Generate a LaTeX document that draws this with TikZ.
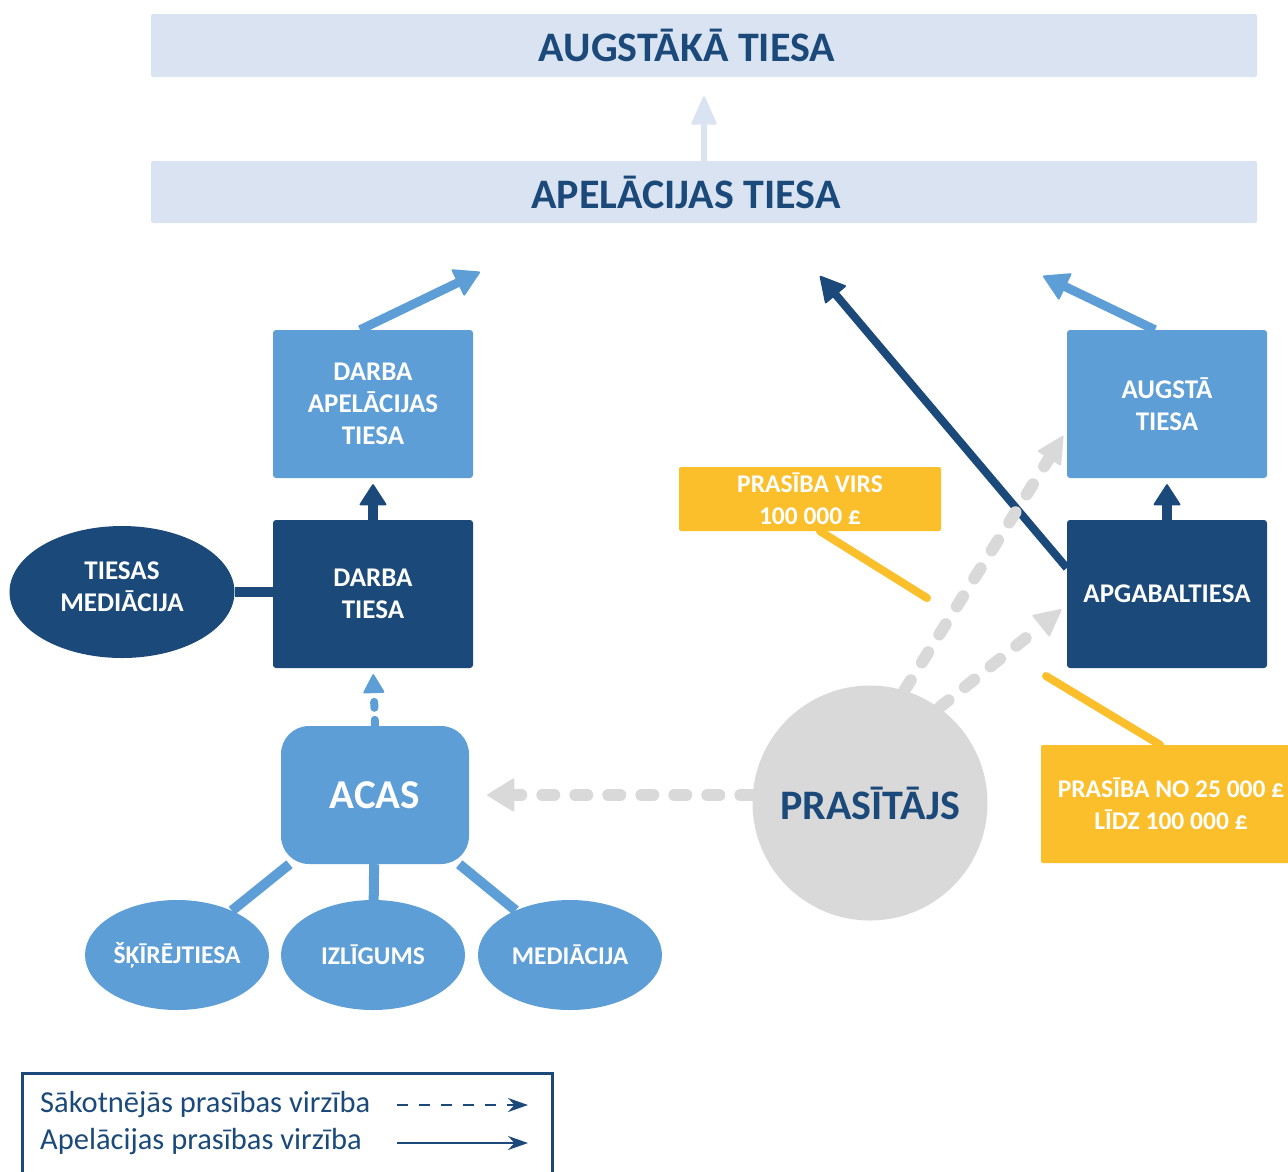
\documentclass[tikz,border=0pt]{standalone}
\usepackage{fontspec}
\setmainfont{Carlito}
\usetikzlibrary{arrows.meta,backgrounds,shapes.geometric,positioning}

\definecolor{darkbl}{RGB}{27,74,122}
\definecolor{midbl}{RGB}{94,158,214}
\definecolor{palebl}{RGB}{218,227,241}
\definecolor{claimgray}{RGB}{217,217,217}
\definecolor{gold}{RGB}{251,191,43}

\tikzset{
  bar/.style={fill=palebl, minimum width=1106pt, inner sep=0pt, rounded corners=2pt,
    text=darkbl, font=\fontsize{42}{44}\selectfont\bfseries},
  court/.style={minimum width=200pt, minimum height=148pt, inner sep=0pt, rounded corners=3pt,
    align=center, text=white, font=\fontsize{27}{32}\selectfont\bfseries},
  method/.style={ellipse, fill=midbl, minimum width=184pt, minimum height=110pt, inner sep=0pt,
    text=white, font=\fontsize{25.5}{28}\selectfont\bfseries},
  capbox/.style={fill=gold, rounded corners=2pt, inner sep=0pt, align=center,
    text=white, font=\fontsize{25.5}{32}\selectfont\bfseries},
  upthick/.style={line width=10pt, -{Triangle[width=28pt,length=22pt,line width=2pt,round]}},
  slant/.style={line width=9pt, -{Triangle[width=30pt,length=26pt,line width=2pt,round]}},
  firstclaim/.style={claimgray, line width=12pt, line cap=round, dash pattern=on 12pt off 21pt,
    -{Triangle[width=34pt,length=28pt,line width=2pt,round]}},
  limit/.style={gold, line width=8pt, line cap=round},
  feed/.style={midbl, line width=10pt}
}

\begin{document}
\begin{tikzpicture}[x=1pt,y=-1pt]
  \useasboundingbox (0,0) rectangle (1288,1171);
  \clip (0,0) rectangle (1288,1171);

  % top courts
  \node[bar, minimum height=63pt] (supreme) at (704,45.5) {AUGSTĀKĀ TIESA\hspace*{34pt}};
  \node[bar, minimum height=62pt] (appeal) at (704,192) {APELĀCIJAS TIESA\hspace*{36pt}};

  % employment side
  \node[court, fill=midbl] (empAppeal) at (373,404) {DARBA\\APELĀCIJAS\\TIESA};
  \node[court, fill=darkbl] (empTrib) at (373,594) {DARBA\\TIESA};
  \node[ellipse, fill=darkbl, minimum width=225pt, minimum height=132pt, inner sep=0pt, align=center,
    text=white, font=\fontsize{27}{32}\selectfont\bfseries] (judMed) at (122,592) {TIESAS\\MEDIĀCIJA\\[-21pt]};
  \node[fill=midbl, rounded corners=28pt, minimum width=188pt, minimum height=138pt, inner sep=0pt,
    text=white, font=\fontsize{41}{44}\selectfont\bfseries] (acas) at (375,795) {ACAS};
  \node[method] (arbit) at (177,955) {ŠĶĪRĒJTIESA};
  \node[method] (concil) at (373,955) {IZLĪGUMS};
  \node[method] (mediat) at (570,955) {MEDIĀCIJA};

  % civil side
  \node[court, fill=midbl] (highCt) at (1167,404) {AUGSTĀ\\TIESA};
  \node[court, fill=darkbl] (county) at (1167,594) {APGABALTIESA};
  \node[circle, fill=claimgray, minimum size=235pt, inner sep=0pt, text=darkbl,
    font=\fontsize{42}{44}\selectfont\bfseries] (claimant) at (870,803) {PRASĪTĀJS};
  \node[capbox, minimum width=262pt, minimum height=64pt] (capHigh) at (810,499) {PRASĪBA VIRS\\100 000 £};
  \node[capbox, minimum width=260pt, minimum height=118pt] (capMid) at (1171,804) {PRASĪBA NO 25 000 £\\LĪDZ 100 000 £};

  \coordinate (empEnd) at (480,272);
  \coordinate (countyEnd) at (820,276);
  \coordinate (highEnd) at (1043,276);
  \coordinate (capHighEnd) at (927,598);
  \coordinate (capMidEnd) at (1046,676);

  \begin{scope}[on background layer]
    \draw[palebl, line width=6pt, -{Triangle[width=26pt,length=30pt,line width=2pt,round]}, shorten >=19pt]
      (appeal.north) -- (supreme.south);
    \draw[slant, midbl] ([xshift=-13pt]empAppeal.north) -- (empEnd);
    \draw[slant, midbl] ([xshift=-12pt]highCt.north) -- (highEnd);
    \draw[darkbl, line width=8pt, -{Triangle[width=28pt,length=26pt,line width=2pt,round]}]
      ([yshift=26pt]county.west) -- (countyEnd);
    \draw[upthick, darkbl, shorten >=6pt] (empTrib.north) -- (empAppeal.south);
    \draw[upthick, darkbl, shorten >=6pt] (county.north) -- (highCt.south);
    \draw[midbl, line width=8pt, line cap=round, dash pattern=on 6pt off 12pt,
      -{Triangle[width=22pt,length=20pt,line width=2pt,round]}, shorten >=6pt] (acas.north) -- (empTrib.south);
    \draw[darkbl, line width=10pt] (judMed.east) -- (judMed.east -| empTrib.west);
    \draw[feed] (acas) -- (arbit);
    \draw[feed] (acas) -- (concil);
    \draw[feed] (acas) -- (mediat);
    \draw[firstclaim, shorten >=18pt] (claimant.west |- acas.east) -- (acas.east);
    \draw[firstclaim, -{Triangle[width=28pt,length=28pt,line width=2pt,round]}, shorten >=7pt]
      (claimant.73) -- ([yshift=-26pt]highCt.west);
    \draw[firstclaim, -{Triangle[width=28pt,length=28pt,line width=2pt,round]}, shorten >=7pt]
      (claimant.54) -- ([yshift=-11pt]county.west);
    \draw[limit] ([xshift=10pt]capHigh.south) -- (capHighEnd);
    \draw[limit] ([xshift=-11pt]capMid.north) -- (capMidEnd);
  \end{scope}

  % legend
  \node[draw=darkbl, line width=3pt, minimum width=530pt, minimum height=120pt] (legend) at (287,1133) {};
  \node[anchor=west, inner sep=0pt, text=darkbl, font=\fontsize{30.5}{32}\selectfont] (legFirst) at (40,1105) {Sākotnējās prasības virzība};
  \node[anchor=west, inner sep=0pt, text=darkbl, font=\fontsize{30.5}{32}\selectfont] (legAppeal) at (40,1142) {Apelācijas prasības virzība};
  \coordinate (legA) at (397,1105);
  \coordinate (legB) at (528,1105);
  \coordinate (legC) at (397,1143);
  \coordinate (legD) at (528,1143);
  \draw[darkbl, line width=2pt, dash pattern=on 11pt off 11pt, -{Stealth[length=20pt,width=14pt]}] (legA) -- (legB);
  \draw[darkbl, line width=2pt, -{Stealth[length=20pt,width=14pt]}] (legC) -- (legD);
\end{tikzpicture}
\end{document}
